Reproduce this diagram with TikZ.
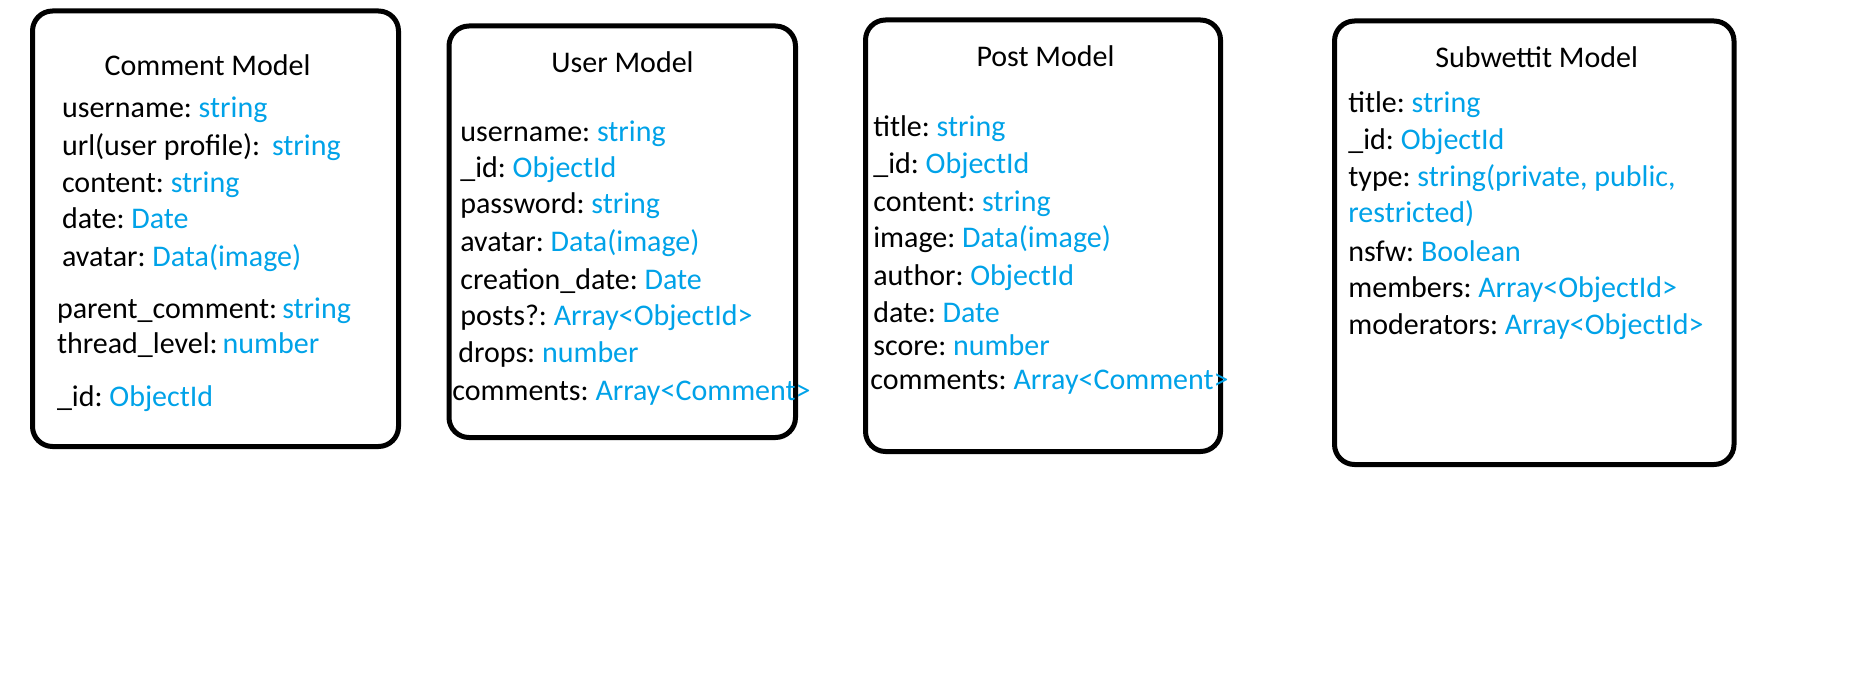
\documentclass[tikz,border=0pt]{standalone}
\usepackage{fontspec}
\setmainfont{Carlito}

\definecolor{typeblue}{HTML}{00A2E8}

\tikzset{
  modelbox/.style={line width=0.1cm, rounded corners=0.4cm},
  modeltitle/.style={anchor=base, inner sep=0pt},
  field/.style={anchor=base west, inner sep=0pt}
}

\begin{document}
\begin{tikzpicture}[x=0.02cm, y=-0.02cm, font=\fontsize{17.07}{20}\selectfont]
  \useasboundingbox (0,0) rectangle (1859,699);

  % cadrele modelelor
  \draw[modelbox] (32.5,11) rectangle (398.5,446.5);
  \draw[modelbox] (449,26) rectangle (795.5,437.5);
  \draw[modelbox] (865.5,20) rectangle (1220.5,451.5);
  \draw[modelbox] (1334.5,21) rectangle (1734,464.5);

  % Comment Model
  \node[modeltitle] (comment) at (207.5,76) {Comment Model};
  \foreach \x/\y/\n/\t [count=\i] in {
    61.7/118/username:/\ string,
    61.7/156/url(user profile):/\ \,string,
    61.7/193/content:/\ string,
    61.7/229/date:/\ Date,
    61.7/267/avatar:/\ Data(image),
    56.7/318/parent\_comment:/\,string,
    56.7/353/thread\_level:/\,number,
    56.7/406/\_id:/\ ObjectId}
  {
    \node[field] (comment-\i) at (\x,\y) {\n\textcolor{typeblue}{\t}};
  }

  % User Model
  \node[modeltitle] (user) at (622.5,73) {User Model};
  \foreach \x/\y/\n/\t [count=\i] in {
    460/141.7/username:/\ string,
    460/178/\_id:/\ ObjectId,
    460/214/password:/\ string,
    460/252/avatar:/\ Data(image),
    460/289/creation\_date:/\ Date,
    460/325/posts?:/\ Array<ObjectId>,
    458/362/drops:/\ number,
    452/400/comments:/\ Array<Comment>}
  {
    \node[field] (user-\i) at (\x,\y) {\n\textcolor{typeblue}{\t}};
  }

  % Post Model
  \node[modeltitle] (post) at (1045.5,66.7) {Post Model};
  \foreach \x/\y/\n/\t [count=\i] in {
    873/137/title:/\ string,
    873/174/\_id:/\ ObjectId,
    873/212/content:/\ string,
    873/248/image:/\ Data(image),
    873/285/author:/\ ObjectId,
    873/322/date:/\ Date,
    873/355/score:/\ number,
    870/389/comments:/\ Array<Comment>}
  {
    \node[field] (post-\i) at (\x,\y) {\n\textcolor{typeblue}{\t}};
  }

  % Subwettit Model
  \node[modeltitle] (subwettit) at (1536.7,68) {Subwettit Model};
  \foreach \x/\y/\n/\t [count=\i] in {
    1348/113/title:/\ string,
    1348/150/\_id:/\ ObjectId,
    1348/187/type:/{\ string(private, public,},
    1348/223//restricted),
    1348/261/nsfw:/\ Boolean,
    1348/297/members:/\ Array<ObjectId>,
    1348/334/moderators:/\ Array<ObjectId>}
  {
    \node[field] (subwettit-\i) at (\x,\y) {\n\textcolor{typeblue}{\t}};
  }
\end{tikzpicture}
\end{document}
